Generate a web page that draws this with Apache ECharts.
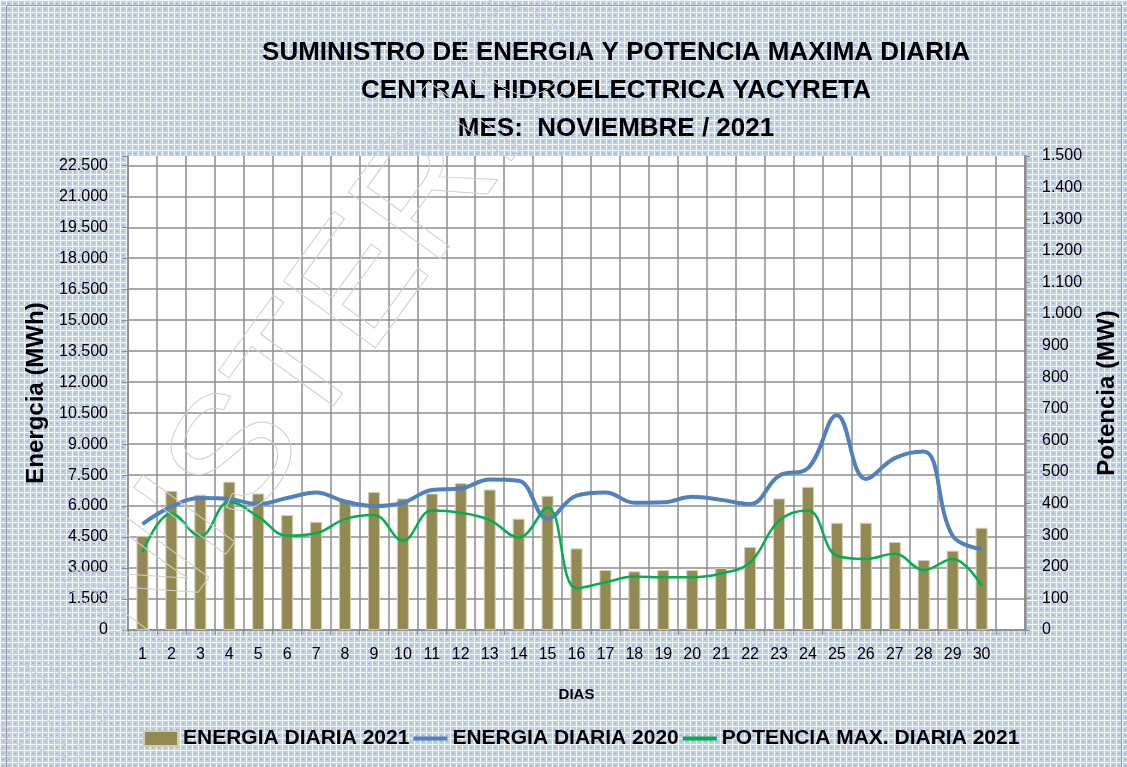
<!DOCTYPE html>
<html>
<head>
<meta charset="utf-8">
<title>Yacyreta - Noviembre 2021</title>
<script src="https://cdn.jsdelivr.net/npm/echarts@6/dist/echarts.min.js"></script>
<style>
  html, body { margin: 0; padding: 0; background: #fff; }
  #chart { width: 1127px; height: 767px; }
</style>
</head>
<body>
<div id="chart"></div>
<script>
// dias del mes (el ultimo hueco es la categoria vacia que deja Excel)
const dias = ["1","2","3","4","5","6","7","8","9","10","11","12","13","14","15",
  "16","17","18","19","20","21","22","23","24","25","26","27","28","29","30",""];

// MWh
const energia2021 = [4560, 6740, 6550, 7180, 6610, 5570, 5240, 6300, 6680, 6370,
  6610, 7110, 6800, 5390, 6500, 3950, 2900, 2840, 2900, 2900,
  3000, 4020, 6370, 6930, 5190, 5190, 4260, 3390, 3840, 4950];

const energia2020 = [5130, 5970, 6390, 6340, 6100, 6390, 6660, 6220, 6000, 6160,
  6780, 6850, 7290, 7230, 5390, 6510, 6660, 6160, 6180, 6450,
  6300, 6100, 7470, 7840, 10400, 7310, 8320, 8640, 4560, 3920];

// MW
const potencia2021 = [246, 369, 297, 406, 359, 298, 306, 351, 364, 283,
  378, 371, 348, 293, 388, 132, 151, 169, 167, 167,
  179, 214, 346, 378, 235, 225, 241, 190, 225, 140];

const titulo = [
  "SUMINISTRO DE ENERGIA Y POTENCIA MAXIMA DIARIA",
  "CENTRAL HIDROELECTRICA YACYRETA",
  "MES:  NOVIEMBRE / 2021"
];

// fondo cuadriculado azul del grafico de Excel
function makePattern() {
  const c = document.createElement("canvas");
  c.width = 6;
  c.height = 6;
  const ctx = c.getContext("2d");
  ctx.fillStyle = "#bccfeb";
  ctx.fillRect(0, 0, 6, 6);
  ctx.fillStyle = "#f4f7fc";
  ctx.fillRect(0, 0, 6, 1);
  ctx.fillRect(0, 0, 1, 6);
  ctx.fillStyle = "#95b0dc";
  ctx.fillRect(3, 3, 1, 1);
  ctx.fillRect(2, 3, 1, 1);
  return c;
}

const fmt = (v) => String(v).replace(/\B(?=(\d{3})+(?!\d))/g, ".");

const FONT = "Liberation Sans";
const chart = echarts.init(document.getElementById("chart"));

const lineIcon = "path://M0,0H34V4H0Z";

const tituloGraphic = titulo.map((t, i) => ({
  type: "text",
  x: 616,
  y: 53 + i * 38,
  style: {
    text: t,
    font: "bold 26px " + FONT,
    fill: "#000",
    align: "center",
    verticalAlign: "middle"
  }
}));

const option = {
  backgroundColor: { image: makePattern(), repeat: "repeat" },
  animation: false,
  textStyle: { fontFamily: FONT },
  graphic: [
    {
      type: "rect",
      shape: { x: 6.5, y: 5.5, width: 1115, height: 770 },
      style: { fill: "none", stroke: "#9a9a9a", lineWidth: 1 },
      silent: true
    },
    ...tituloGraphic,
    {
      type: "text",
      x: 285,
      y: 395,
      rotation: (54 * Math.PI) / 180,
      z: 100,
      silent: true,
      style: {
        text: "MINISTERIO",
        font: "165px " + FONT,
        fill: "none",
        stroke: "#cfcfcf",
        lineWidth: 1,
        align: "center",
        verticalAlign: "middle"
      }
    }
  ],
  legend: {
    bottom: 13,
    left: 138,
    itemWidth: 34,
    itemHeight: 15,
    itemGap: 4,
    textStyle: { fontFamily: FONT, fontSize: 21, fontWeight: "bold", color: "#000" },
    data: [
      { name: "ENERGIA DIARIA 2021", icon: "rect" },
      { name: "ENERGIA DIARIA 2020", icon: lineIcon },
      { name: "POTENCIA MAX. DIARIA 2021", icon: lineIcon }
    ]
  },
  grid: {
    left: 128,
    right: 94,
    top: 156,
    bottom: 137,
    show: true,
    backgroundColor: "#fff",
    borderWidth: 0
  },
  xAxis: {
    type: "category",
    data: dias,
    boundaryGap: true,
    name: "DIAS",
    nameLocation: "middle",
    nameGap: 57,
    nameTextStyle: { fontSize: 15, fontWeight: "bold", color: "#000" },
    axisLine: { lineStyle: { color: "#8c8c8c", width: 1.5 } },
    axisTick: { show: true, interval: 0, length: 5, lineStyle: { color: "#8c8c8c" } },
    axisLabel: { interval: 0, margin: 17, fontSize: 16, color: "#000" },
    splitLine: { show: true, interval: 0, lineStyle: { color: "#8c8c8c", width: 1.5 } }
  },
  yAxis: [
    {
      type: "value",
      min: 0,
      max: 22950,
      interval: 1500,
      name: "Energcia (MWh)",
      nameLocation: "middle",
      nameRotate: 90,
      nameGap: 78,
      nameTextStyle: { fontSize: 24, fontWeight: "bold", color: "#000" },
      axisLine: { show: true, lineStyle: { color: "#8c8c8c", width: 1.5 } },
      axisTick: { show: true, length: 6, lineStyle: { color: "#8c8c8c" } },
      axisLabel: {
        fontSize: 16,
        color: "#000",
        margin: 20,
        formatter: (v) => (v > 22500 ? "" : fmt(v))
      },
      splitLine: { show: true, showMaxLine: false, lineStyle: { color: "#8c8c8c", width: 1.5 } }
    },
    {
      type: "value",
      min: 0,
      max: 1500,
      interval: 100,
      position: "right",
      name: "Potencia (MW)",
      nameLocation: "middle",
      nameRotate: 90,
      nameGap: 70,
      nameTextStyle: { fontSize: 24, fontWeight: "bold", color: "#000" },
      axisLine: { show: true, lineStyle: { color: "#8c8c8c", width: 2.5 } },
      axisTick: { show: true, length: 5, lineStyle: { color: "#8c8c8c" } },
      axisLabel: { fontSize: 16, color: "#000", margin: 17, formatter: (v) => fmt(v) },
      splitLine: { show: false }
    }
  ],
  series: [
    {
      name: "ENERGIA DIARIA 2021",
      type: "bar",
      yAxisIndex: 0,
      data: energia2021,
      barWidth: 12,
      itemStyle: { color: "#938953", borderColor: "#d3ceb0", borderWidth: 1 }
    },
    {
      name: "ENERGIA DIARIA 2020",
      type: "line",
      yAxisIndex: 0,
      data: energia2020,
      smooth: 0.4,
      symbol: "none",
      lineStyle: { color: "#4f81bd", width: 4 },
      itemStyle: { color: "#4f81bd" }
    },
    {
      name: "POTENCIA MAX. DIARIA 2021",
      type: "line",
      yAxisIndex: 1,
      data: potencia2021,
      smooth: 0.4,
      symbol: "none",
      lineStyle: { color: "#00b050", width: 2.5 },
      itemStyle: { color: "#00b050" }
    }
  ]
};

chart.setOption(option);
</script>
</body>
</html>
